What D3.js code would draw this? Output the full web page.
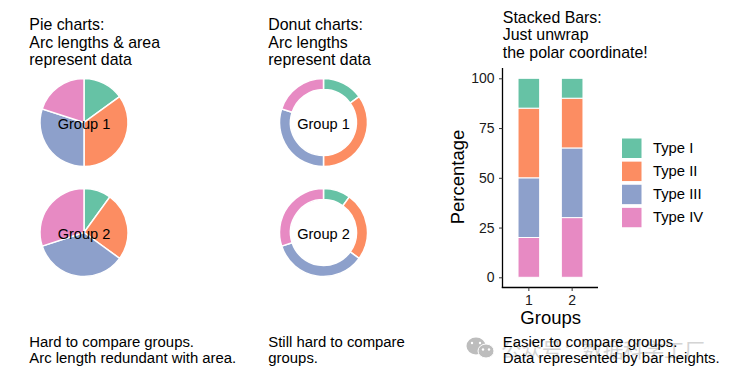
<!DOCTYPE html>
<html>
<head>
<meta charset="utf-8">
<script src="https://cdn.jsdelivr.net/npm/d3@7"></script>
<style>
  html, body { margin: 0; padding: 0; background: #fff; }
  text { font-family: "Liberation Sans", Arial, sans-serif; fill: #000; }
</style>
</head>
<body>
<svg id="chart" width="730" height="379"></svg>
<script>
// DATA
const types = ["Type I", "Type II", "Type III", "Type IV"];
const groups = ["1", "2"];
const group1Values = [15, 35, 30, 20];
const group2Values = [10, 25, 35, 30];
const typeColors = ["#66c2a5", "#fc8d62", "#8da0cb", "#e78ac3"];
const yTicks = [0, 25, 50, 75, 100];

const svg = d3.select("#chart");

// MULTI-LINE TEXT
const addLines = function(x, y, lines, size, lineHeight) {
    lines.forEach((line, i) => {
        svg.append("text")
            .attr("x", x)
            .attr("y", y + i * lineHeight)
            .style("font-size", size + "px")
            .text(line);
    });
}

addLines(29.3, 30, ["Pie charts:", "Arc lengths & area", "represent data"], 15.9, 17.6);
addLines(268.3, 30, ["Donut charts:", "Arc lengths", "represent data"], 15.9, 17.6);
addLines(502.8, 22.6, ["Stacked Bars:", "Just unwrap", "the polar coordinate!"], 15.9, 17.6);
addLines(29.3, 346.8, ["Hard to compare groups.", "Arc length redundant with area."], 14.9, 16);
addLines(268.3, 346.8, ["Still hard to compare", "groups."], 14.9, 16);

// WATERMARK (sits under the last caption)
const mark = svg.append("g").attr("fill", "#bdbdbd");
mark.append("ellipse").attr("cx", 476).attr("cy", 346).attr("rx", 9.5).attr("ry", 8.5);
mark.append("ellipse").attr("cx", 486).attr("cy", 351).attr("rx", 8).attr("ry", 7).attr("stroke", "#fff");
[[472, 343], [480, 343], [483, 349.5], [489, 349.5]].forEach(p => {
    mark.append("circle").attr("cx", p[0]).attr("cy", p[1]).attr("r", 1.2).attr("fill", "#fff");
});
svg.append("text")
    .attr("x", 501)
    .attr("y", 358)
    .style("font-family", '"Noto Sans CJK SC"')
    .style("font-size", "20.4px")
    .style("fill", "#d4d4d4")
    .text("公众号：数据科学工厂");

addLines(502.8, 346.8, ["Easier to compare groups.", "Data represented by bar heights."], 14.9, 16);

// PIE + DONUT
const pie = d3.pie().sort(null).value(d => d);
const drawRing = function(values, cx, cy, innerRadius, outerRadius, label) {
    const arc = d3.arc().innerRadius(innerRadius).outerRadius(outerRadius);
    const g = svg.append("g").attr("transform", `translate(${cx},${cy})`);
    g.selectAll("path")
        .data(pie(values))
        .join("path")
        .attr("d", arc)
        .attr("fill", (d, i) => typeColors[i])
        .attr("stroke", "#fff")
        .attr("stroke-width", 1.5);
    g.append("text")
        .attr("text-anchor", "middle")
        .attr("y", 6.5)
        .style("font-size", "14.6px")
        .text(label);
}

drawRing(group1Values, 84, 122.5, 0, 44, "Group 1");
drawRing(group2Values, 84, 232.5, 0, 44, "Group 2");
drawRing(group1Values, 323.5, 122.5, 33, 44, "Group 1");
drawRing(group2Values, 323.5, 232.5, 33, 44, "Group 2");

// STACKED BARS
const y = d3.scaleLinear().domain([0, 100]).range([277.3, 78.3]);
const x = d3.scaleBand().domain(groups).range([507.2, 593.8]).paddingInner(0.5).paddingOuter(0.25);

const barRows = [group1Values, group2Values].map((vals, i) => {
    const row = { group: groups[i] };
    types.forEach((t, j) => row[t] = vals[j]);
    return row;
});
// Type I sits on top, so stack the reversed order from the baseline
const stack = d3.stack().keys(types.slice().reverse());
svg.append("g")
    .selectAll("g")
    .data(stack(barRows))
    .join("g")
    .attr("fill", d => typeColors[types.indexOf(d.key)])
    .selectAll("rect")
    .data(d => d)
    .join("rect")
    .attr("x", d => x(d.data.group))
    .attr("y", d => y(d[1]))
    .attr("width", x.bandwidth())
    .attr("height", d => y(d[0]) - y(d[1]))
    .attr("stroke", "#fff")
    .attr("stroke-width", 1);

// AXES
const yAxisG = svg.append("g")
    .attr("transform", "translate(502.5,0)")
    .call(d3.axisLeft(y).tickValues(yTicks).tickSize(3.5).tickPadding(4.5));
const xAxisG = svg.append("g")
    .attr("transform", "translate(0,287.5)")
    .call(d3.axisBottom(x).tickSize(3.5).tickPadding(4.5));
yAxisG.select(".domain").attr("d", "M0,68V288").attr("stroke-width", 1.3);
xAxisG.select(".domain").attr("d", "M501.8,0H598").attr("stroke-width", 1.3);
[yAxisG, xAxisG].forEach(a => {
    a.selectAll(".tick line").attr("stroke", "#333").attr("stroke-width", 1);
    a.selectAll(".tick text")
        .style("font-family", '"Liberation Sans", Arial, sans-serif')
        .style("font-size", "14px")
        .style("fill", "#1a1a1a");
});

svg.append("text")
    .attr("transform", "translate(464,177) rotate(-90)")
    .attr("text-anchor", "middle")
    .style("font-size", "18.5px")
    .text("Percentage");
svg.append("text")
    .attr("x", 550.7)
    .attr("y", 324)
    .attr("text-anchor", "middle")
    .style("font-size", "18.5px")
    .text("Groups");

// LEGEND
const legend = svg.append("g")
    .selectAll("g")
    .data(types)
    .join("g")
    .attr("transform", (d, i) => `translate(621.5,${138 + i * 23.1})`);
legend.append("rect")
    .attr("width", 20.5)
    .attr("height", 20.5)
    .attr("fill", (d, i) => typeColors[i])
    .attr("stroke", "#fff")
    .attr("stroke-width", 1);
legend.append("text")
    .attr("x", 31.5)
    .attr("y", 15)
    .style("font-size", "14.8px")
    .text(d => d);
</script>
</body>
</html>
